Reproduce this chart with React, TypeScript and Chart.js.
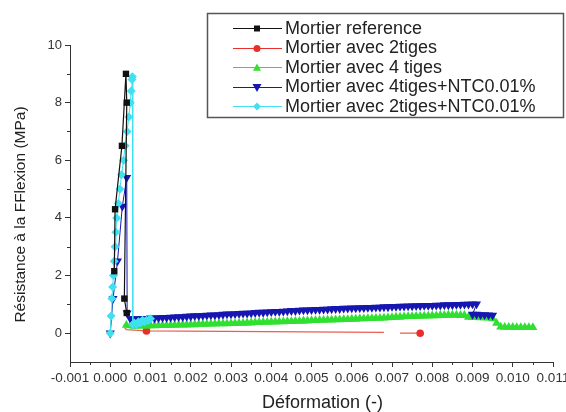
import { useEffect, useRef } from "react";
import { Chart, registerables } from "chart.js";

Chart.register(...registerables);

// ---------- Axis ticks ----------
const xTicks = [-0.001, 0, 0.001, 0.002, 0.003, 0.004, 0.005, 0.006, 0.007, 0.008, 0.009, 0.01, 0.011];
const xMinorTicks = [-0.0005, 0.0005, 0.0015, 0.0025, 0.0035, 0.0045, 0.0055, 0.0065, 0.0075, 0.0085, 0.0095, 0.0105];
const yTicks = [0, 2, 4, 6, 8, 10];
const yMinorTicks = [1, 3, 5, 7, 9];

const xTitle = "Déformation (-)";
const yTitle = "Résistance à la FFlexion (MPa)";

const seriesNames = [
  "Mortier reference",
  "Mortier avec 2tiges",
  "Mortier avec 4 tiges",
  "Mortier avec 4tiges+NTC0.01%",
  "Mortier avec 2tiges+NTC0.01%",
];

// ---------- Data ----------
const refX = [0.0001, 0.00012, 0.00029, 0.00039, 0.00041, 0.00035, 0.00041];
const refY = [2.15, 4.3, 6.5, 9.0, 8.0, 1.2, 0.7];

const red2X = [0.00035, 0.0004, 0.0009, 0.0068, 0.007, 0.0072, 0.0077];
const red2Y = [0.2, 0.12, 0.08, 0.03, null, 0.0, 0.0];
const red2Markers = [0, 0, 1, 0, 0, 0, 1];

const green4X = [
  0.0004, 0.0005, 0.0006, 0.0007, 0.0008, 0.0009, 0.001, 0.0011, 0.0012, 0.0013,
  0.0014, 0.0015, 0.0016, 0.0017, 0.0018, 0.0019, 0.002, 0.0021, 0.0022, 0.0023,
  0.0024, 0.0025, 0.0026, 0.0027, 0.0028, 0.0029, 0.003, 0.0031, 0.0032, 0.0033,
  0.0034, 0.0035, 0.0036, 0.0037, 0.0038, 0.0039, 0.004, 0.0041, 0.0042, 0.0043,
  0.0044, 0.0045, 0.0046, 0.0047, 0.0048, 0.0049, 0.005, 0.0051, 0.0052, 0.0053,
  0.0054, 0.0055, 0.0056, 0.0057, 0.0058, 0.0059, 0.006, 0.0061, 0.0062, 0.0063,
  0.0064, 0.0065, 0.0066, 0.0067, 0.0068, 0.0069, 0.007, 0.0071, 0.0072, 0.0073,
  0.0074, 0.0075, 0.0076, 0.0077, 0.0078, 0.0079, 0.008, 0.0081, 0.0082, 0.0083,
  0.0084, 0.0085, 0.0086, 0.0087, 0.0088, 0.0089, 0.009, 0.0091, 0.0092, 0.0093,
  0.0094, 0.0095, 0.0096, 0.0097, 0.0098, 0.0099, 0.01, 0.0101, 0.0102, 0.0103,
  0.0104, 0.0105,
];
const green4Y = [
  0.28, 0.26, 0.24, 0.25, 0.25, 0.25, 0.26, 0.26, 0.27, 0.27,
  0.27, 0.28, 0.28, 0.29, 0.29, 0.29, 0.3, 0.3, 0.31, 0.31,
  0.31, 0.32, 0.32, 0.33, 0.33, 0.33, 0.34, 0.34, 0.35, 0.35,
  0.36, 0.36, 0.37, 0.37, 0.38, 0.38, 0.39, 0.39, 0.4, 0.4,
  0.41, 0.41, 0.42, 0.42, 0.43, 0.43, 0.44, 0.44, 0.45, 0.45,
  0.46, 0.46, 0.47, 0.47, 0.48, 0.48, 0.49, 0.49, 0.5, 0.5,
  0.51, 0.51, 0.52, 0.52, 0.53, 0.54, 0.55, 0.56, 0.56, 0.57,
  0.58, 0.58, 0.59, 0.59, 0.6, 0.6, 0.61, 0.61, 0.62, 0.62,
  0.63, 0.63, 0.63, 0.62, 0.62, 0.56, 0.55, 0.55, 0.54, 0.54,
  0.53, 0.5, 0.35, 0.22, 0.21, 0.21, 0.21, 0.2, 0.2, 0.2,
  0.2, 0.2,
];

const blueX = [
  0, 0.00007, 0.00018, 0.0003, 0.00041, 0.00042,
  0.0005, 0.0006, 0.0007, 0.0008, 0.0009, 0.001, 0.0011, 0.0012, 0.0013, 0.0014,
  0.0015, 0.0016, 0.0017, 0.0018, 0.0019, 0.002, 0.0021, 0.0022, 0.0023, 0.0024,
  0.0025, 0.0026, 0.0027, 0.0028, 0.0029, 0.003, 0.0031, 0.0032, 0.0033, 0.0034,
  0.0035, 0.0036, 0.0037, 0.0038, 0.0039, 0.004, 0.0041, 0.0042, 0.0043, 0.0044,
  0.0045, 0.0046, 0.0047, 0.0048, 0.0049, 0.005, 0.0051, 0.0052, 0.0053, 0.0054,
  0.0055, 0.0056, 0.0057, 0.0058, 0.0059, 0.006, 0.0061, 0.0062, 0.0063, 0.0064,
  0.0065, 0.0066, 0.0067, 0.0068, 0.0069, 0.007, 0.0071, 0.0072, 0.0073, 0.0074,
  0.0075, 0.0076, 0.0077, 0.0078, 0.0079, 0.008, 0.0081, 0.0082, 0.0083, 0.0084,
  0.0085, 0.0086, 0.0087, 0.0088, 0.0089, 0.009, 0.0091,
  0.009, 0.0091, 0.0092, 0.0093, 0.0094, 0.0095,
];
const blueY = [
  0, 1.2, 2.5, 4.4, 5.4, 0.7,
  0.5, 0.5, 0.5, 0.51, 0.51, 0.52, 0.52, 0.53, 0.54, 0.54,
  0.55, 0.56, 0.57, 0.57, 0.58, 0.59, 0.6, 0.6, 0.61, 0.62,
  0.63, 0.63, 0.64, 0.65, 0.66, 0.66, 0.67, 0.68, 0.69, 0.69,
  0.7, 0.71, 0.72, 0.72, 0.73, 0.74, 0.75, 0.75, 0.76, 0.77,
  0.78, 0.78, 0.79, 0.8, 0.8, 0.81, 0.82, 0.82, 0.83, 0.83,
  0.84, 0.85, 0.85, 0.86, 0.86, 0.87, 0.87, 0.88, 0.88, 0.89,
  0.89, 0.9, 0.9, 0.91, 0.91, 0.92, 0.92, 0.93, 0.93, 0.94,
  0.94, 0.95, 0.95, 0.96, 0.96, 0.96, 0.97, 0.97, 0.98, 0.98,
  0.98, 0.99, 0.99, 1.0, 1.0, 1.01, 1.01,
  0.65, 0.65, 0.64, 0.64, 0.63, 0.62,
];

const cyanX = [
  0, 0.00002, 0.00004, 0.00006, 0.00008, 0.0001, 0.00012, 0.00014, 0.00016, 0.0002,
  0.00024, 0.00028, 0.00033, 0.00037, 0.00042, 0.00046, 0.0005, 0.00052, 0.00054, 0.00055,
  0.00056, 0.0006, 0.00065, 0.0007, 0.00075, 0.0008, 0.00085, 0.0009, 0.00095, 0.001,
];
const cyanY = [
  0, 0.6, 1.2, 1.6, 2.0, 2.5, 3.0, 3.5, 4.0, 4.5,
  5.0, 5.5, 6.0, 6.5, 7.0, 7.5, 8.0, 8.4, 8.8, 8.9,
  0.3, 0.35, 0.3, 0.4, 0.35, 0.45, 0.4, 0.45, 0.45, 0.5,
];

const seriesColors = ["#111111", "#e8302a", "#30e030", "#1616b0", "#40e0f0"];
const FONT = '"Liberation Sans", Arial, Helvetica, sans-serif';

function toPoints(xs: number[], ys: (number | null)[]) {
  return xs.map((x, i) => ({ x, y: ys[i] }));
}

function drawMarker(ctx: CanvasRenderingContext2D, kind: string, x: number, y: number, r: number, color: string) {
  ctx.save();
  ctx.fillStyle = color;
  ctx.beginPath();
  if (kind === "rect") {
    ctx.rect(x - r, y - r, 2 * r, 2 * r);
  } else if (kind === "circle") {
    ctx.arc(x, y, r, 0, Math.PI * 2);
  } else if (kind === "triUp") {
    ctx.moveTo(x, y - r);
    ctx.lineTo(x + r, y + r * 0.8);
    ctx.lineTo(x - r, y + r * 0.8);
    ctx.closePath();
  } else if (kind === "triDown") {
    ctx.moveTo(x, y + r);
    ctx.lineTo(x + r, y - r * 0.8);
    ctx.lineTo(x - r, y - r * 0.8);
    ctx.closePath();
  } else {
    ctx.moveTo(x, y - r);
    ctx.lineTo(x + r, y);
    ctx.lineTo(x, y + r);
    ctx.lineTo(x - r, y);
    ctx.closePath();
  }
  ctx.fill();
  ctx.restore();
}

const legendKinds = ["rect", "circle", "triUp", "triDown", "diamond"];
const legendSizes = [3, 3.5, 4, 4.5, 4];

const decorPlugin = {
  id: "decor",
  afterDraw(chart: any) {
    const ctx: CanvasRenderingContext2D = chart.ctx;
    const xs = chart.scales.x;
    const ys = chart.scales.y;
    const area = chart.chartArea;
    ctx.save();
    // minor ticks
    ctx.strokeStyle = "#333";
    ctx.lineWidth = 1;
    ctx.beginPath();
    xMinorTicks.forEach((v) => {
      const px = Math.round(xs.getPixelForValue(v)) + 0.5;
      ctx.moveTo(px, area.bottom);
      ctx.lineTo(px, area.bottom + 3);
    });
    yMinorTicks.forEach((v) => {
      const py = Math.round(ys.getPixelForValue(v)) + 0.5;
      ctx.moveTo(area.left - 3, py);
      ctx.lineTo(area.left, py);
    });
    ctx.stroke();

    // axis titles
    ctx.fillStyle = "#222";
    ctx.textAlign = "center";
    ctx.textBaseline = "middle";
    ctx.font = `18px ${FONT}`;
    ctx.fillText(xTitle, (area.left + area.right) / 2 + 11, area.bottom + 41);
    ctx.save();
    ctx.translate(21, (area.top + area.bottom) / 2 + 11);
    ctx.rotate(-Math.PI / 2);
    ctx.font = `15.5px ${FONT}`;
    ctx.fillText(yTitle, 0, 0);
    ctx.restore();

    // legend box
    const bx = 207, by = 13, bw = 356, bh = 104;
    ctx.fillStyle = "#fff";
    ctx.fillRect(bx, by, bw, bh);
    ctx.strokeStyle = "#555";
    ctx.lineWidth = 1.5;
    ctx.strokeRect(bx + 0.5, by + 0.5, bw, bh);
    ctx.font = `18px ${FONT}`;
    ctx.textAlign = "left";
    ctx.textBaseline = "middle";
    seriesNames.forEach((name, i) => {
      const y = 28 + i * 19.5;
      const col = seriesColors[i];
      ctx.strokeStyle = col;
      ctx.lineWidth = 1;
      ctx.beginPath();
      ctx.moveTo(233, Math.round(y) + 0.5);
      ctx.lineTo(282, Math.round(y) + 0.5);
      ctx.stroke();
      drawMarker(ctx, legendKinds[i], 257, Math.round(y) + 0.5, legendSizes[i], col);
      ctx.fillStyle = "#222";
      ctx.fillText(name, 285, y + 1);
    });
    ctx.restore();
  },
};

export default function App() {
  const canvasRef = useRef<HTMLCanvasElement | null>(null);

  useEffect(() => {
    const canvas = canvasRef.current;
    if (!canvas) return;
    const chart = new Chart(canvas, {
      type: "scatter",
      data: {
        datasets: [
          {
            label: seriesNames[0],
            data: toPoints(refX, refY),
            showLine: true,
            borderColor: seriesColors[0],
            backgroundColor: seriesColors[0],
            borderWidth: 1.2,
            pointStyle: "rect",
            pointRadius: 4.5,
            pointBorderWidth: 0,
            order: 0,
          },
          {
            label: seriesNames[1],
            data: toPoints(red2X, red2Y),
            showLine: true,
            spanGaps: false,
            borderColor: "#e86050",
            backgroundColor: seriesColors[1],
            borderWidth: 1.2,
            pointStyle: "circle",
            pointRadius: red2Markers.map((m) => (m ? 3.8 : 0)),
            pointBorderWidth: 0,
            order: 4,
          },
          {
            label: seriesNames[2],
            data: toPoints(green4X, green4Y),
            showLine: true,
            borderColor: seriesColors[2],
            backgroundColor: seriesColors[2],
            borderWidth: 1,
            pointStyle: "triangle",
            pointRadius: 5.2,
            pointBorderWidth: 0,
            order: 3,
          },
          {
            label: seriesNames[3],
            data: toPoints(blueX, blueY),
            showLine: true,
            borderColor: seriesColors[3],
            backgroundColor: seriesColors[3],
            borderWidth: 1,
            pointStyle: "triangle",
            rotation: 180,
            pointRadius: 5.2,
            pointBorderWidth: 0,
            order: 2,
          },
          {
            label: seriesNames[4],
            data: toPoints(cyanX, cyanY),
            showLine: true,
            borderColor: seriesColors[4],
            backgroundColor: seriesColors[4],
            borderWidth: 1,
            pointStyle: "rectRot",
            pointRadius: 4.5,
            pointBorderWidth: 0,
            order: 1,
          },
        ],
      },
      options: {
        animation: false,
        responsive: false,
        devicePixelRatio: 1,
        layout: { padding: { left: 0, right: 37, top: 45, bottom: 0 } },
        plugins: {
          legend: { display: false },
          tooltip: { enabled: false },
          title: { display: false },
        },
        elements: { line: { tension: 0 } },
        scales: {
          x: {
            type: "linear",
            min: -0.001,
            max: 0.011,
            afterBuildTicks: (s: any) => {
              s.ticks = xTicks.map((v) => ({ value: v }));
            },
            afterFit: (s: any) => {
              s.height = 50;
            },
            grid: { drawOnChartArea: false, drawTicks: true, tickLength: 5, color: "#333", lineWidth: 1 },
            border: { display: true, color: "#333", width: 1 },
            ticks: {
              autoSkip: false,
              maxRotation: 0,
              minRotation: 0,
              padding: 3,
              color: "#333",
              font: { family: FONT, size: 13.5 },
              callback: (v: any) => Number(v).toFixed(3),
            },
          },
          y: {
            type: "linear",
            min: -1,
            max: 10,
            afterBuildTicks: (s: any) => {
              s.ticks = yTicks.map((v) => ({ value: v }));
            },
            afterFit: (s: any) => {
              s.width = 70;
            },
            grid: { drawOnChartArea: false, drawTicks: true, tickLength: 5, color: "#333", lineWidth: 1 },
            border: { display: true, color: "#333", width: 1 },
            ticks: {
              padding: 3,
              color: "#333",
              font: { family: FONT, size: 13 },
              callback: (v: any) => String(v),
            },
          },
        },
      },
      plugins: [decorPlugin],
    } as any);
    return () => chart.destroy();
  }, []);

  return (
    <div
      style={{
        position: "fixed",
        left: 0,
        top: 0,
        width: 566,
        height: 412,
        overflow: "hidden",
        background: "#fff",
      }}
    >
      <canvas ref={canvasRef} width={590} height={412} style={{ width: 590, height: 412, display: "block" }} />
    </div>
  );
}
